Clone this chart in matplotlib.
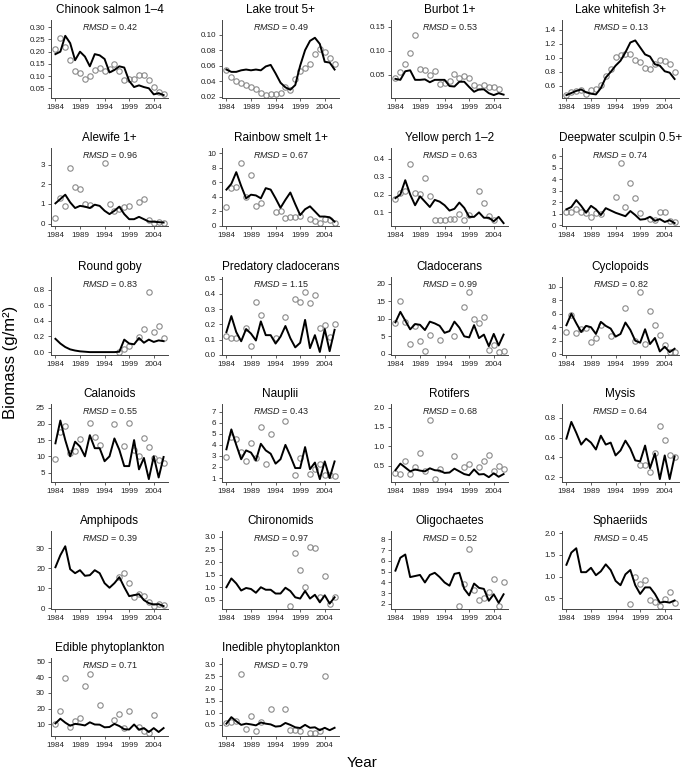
import numpy as np
import matplotlib.pyplot as plt

plt.rcParams['font.family'] = ['Liberation Sans', 'DejaVu Sans']
plt.rcParams['mathtext.fontset'] = 'custom'
plt.rcParams['mathtext.it'] = 'Liberation Sans:italic'
plt.rcParams['mathtext.rm'] = 'Liberation Sans'

years = np.arange(1984, 2007)
xticks = [1984, 1989, 1994, 1999, 2004]

# model (line) and observed (circles) biomass, 1984-2006; None = no survey
chinook_model = [0.19, 0.20, 0.265, 0.235, 0.165, 0.20, 0.18, 0.14, 0.19, 0.185, 0.17, 0.115,
                 0.125, 0.14, 0.135, 0.08, 0.055, 0.062, 0.055, 0.05, 0.025, 0.03, 0.022]
chinook_obs = [0.21, 0.255, 0.22, 0.164, 0.122, 0.112, 0.09, 0.10, 0.123, 0.133, 0.122, 0.127,
               0.15, 0.12, 0.085, 0.09, 0.088, 0.105, 0.105, 0.085, 0.055, 0.035, 0.025]

trout_model = [0.055, 0.052, 0.052, 0.054, 0.055, 0.054, 0.055, 0.054, 0.059, 0.061, 0.050, 0.038,
               0.032, 0.029, 0.035, 0.060, 0.080, 0.092, 0.096, 0.088, 0.065, 0.064, 0.055]
trout_obs = [0.055, 0.046, 0.040, 0.038, 0.035, 0.033, 0.030, 0.025, 0.022, 0.024, 0.023, 0.025,
             0.033, 0.028, 0.043, 0.053, 0.057, 0.062, 0.075, 0.081, 0.078, 0.070, 0.062]

burbot_model = [0.041, 0.039, 0.057, 0.059, 0.039, 0.039, 0.040, 0.034, 0.039, 0.039, 0.039, 0.026,
                0.025, 0.035, 0.035, 0.024, 0.014, 0.019, 0.019, 0.011, 0.007, 0.011, 0.008]
burbot_obs = [0.042, 0.056, 0.073, 0.095, 0.132, 0.062, 0.060, 0.050, 0.057, 0.031, 0.032, 0.036,
              0.052, 0.043, 0.047, 0.043, 0.028, 0.023, 0.029, 0.024, 0.023, 0.019, None]

whitefish_model = [0.47, 0.50, 0.53, 0.55, 0.51, 0.49, 0.48, 0.57, 0.72, 0.80, 0.89, 0.96,
                   1.08, 1.22, 1.25, 1.15, 1.05, 1.02, 0.91, 0.89, 0.81, 0.79, 0.70]
whitefish_obs = [0.47, 0.51, 0.53, 0.54, 0.49, 0.55, 0.56, 0.62, 0.74, 0.84, 1.01, 1.04,
                 1.05, 1.06, 0.97, 0.94, 0.86, 0.84, 0.91, 0.97, 0.95, 0.91, 0.80]

alewife_model = [1.03, 1.25, 1.47, 1.08, 0.79, 0.90, 0.86, 0.79, 0.96, 0.90, 0.65, 0.48,
                 0.65, 0.86, 0.48, 0.22, 0.22, 0.34, 0.22, 0.10, 0.09, 0.07, 0.05]
alewife_obs = [0.26, 1.3, 0.87, 2.85, 1.86, 1.74, 1.0, 0.96, None, None, 3.09, 1.0,
               0.65, 0.74, 0.86, 0.89, None, 1.09, 1.26, 0.17, 0.02, 0.1, 0.02]

smelt_model = [5.0, 5.8, 7.4, 5.5, 3.8, 4.3, 4.2, 3.8, 5.2, 5.0, 3.8, 2.5,
               3.6, 4.6, 3.0, 1.5, 2.3, 2.7, 2.0, 1.3, 1.3, 1.2, 0.6]
smelt_obs = [2.6, 5.2, 5.3, 8.6, 4.0, 7.0, 2.7, 3.2, None, None, 1.9, 2.1,
             1.1, 1.3, 1.3, 1.4, None, 0.9, 0.7, 0.4, 1.0, 0.8, 0.4]

perch_model = [0.18, 0.20, 0.28, 0.20, 0.14, 0.19, 0.16, 0.13, 0.17, 0.16, 0.14, 0.11,
               0.12, 0.155, 0.125, 0.075, 0.075, 0.10, 0.07, 0.07, 0.05, 0.075, 0.04]
perch_obs = [0.175, 0.21, 0.22, 0.37, 0.21, 0.205, 0.29, 0.19, 0.055, 0.055, 0.055, 0.065,
             0.065, 0.09, 0.06, 0.085, None, 0.22, 0.15, 0.08, 0.06, None, None]

sculpin_model = [1.4, 1.6, 2.2, 1.7, 1.1, 1.7, 1.4, 0.9, 1.5, 1.3, 1.1, 0.95,
                 0.8, 1.25, 0.9, 0.5, 0.55, 0.75, 0.4, 0.55, 0.3, 0.45, 0.2]
sculpin_obs = [1.2, 1.2, 1.4, 1.2, 1.05, 0.75, 1.1, 0.95, None, None, 2.5, 5.4,
               1.6, 3.7, 2.4, 1.05, None, 0.55, 0.45, 1.2, 1.15, 0.35, 0.3]

goby_model = [0.17, 0.11, 0.065, 0.035, 0.02, 0.01, 0.005, 0.0, 0.0, 0.0, 0.0, 0.0,
              0.0, 0.005, 0.16, 0.11, 0.10, 0.18, 0.12, 0.16, 0.13, 0.15, 0.14]
goby_obs = [None, None, None, None, None, None, None, None, None, None, None, None,
            None, 0.0, 0.04, 0.08, None, 0.19, 0.29, 0.77, 0.26, 0.34, 0.18]

predclad_model = [0.15, 0.255, 0.15, 0.09, 0.17, 0.14, 0.095, 0.22, 0.13, 0.13, 0.075, 0.12,
                  0.19, 0.11, 0.05, 0.08, 0.23, 0.045, 0.13, 0.02, 0.17, 0.025, 0.165]
predclad_obs = [0.125, 0.11, 0.11, None, 0.175, 0.06, 0.345, 0.26, None, None, 0.11, None,
                0.25, None, 0.365, 0.345, 0.41, 0.34, 0.39, 0.18, 0.195, 0.115, 0.2]

clado_model = [9.0, 12.0, 9.5, 7.0, 8.5, 8.3, 6.8, 9.2, 8.7, 8.0, 6.0, 6.5,
               9.2, 7.5, 5.0, 4.7, 8.2, 4.5, 5.5, 2.2, 5.7, 2.4, 5.5]
clado_obs = [8.7, 15.0, 9.2, 2.7, 8.0, 3.7, 0.8, 5.4, None, 3.9, None, None,
             5.0, None, 13.3, 17.6, 9.9, 8.7, 10.4, 1.1, 2.4, 0.5, 0.9]

cyclo_model = [4.3, 6.0, 4.6, 3.3, 4.2, 4.0, 3.0, 4.8, 4.2, 3.8, 2.6, 3.0,
               4.7, 3.6, 2.0, 1.7, 3.7, 1.5, 2.4, 0.4, 1.1, 0.3, 0.8]
cyclo_obs = [3.3, 5.8, 3.2, 3.7, 3.9, 1.8, 2.4, 4.4, None, 2.7, None, None,
             6.9, None, 1.9, 9.2, 1.5, 6.4, 4.4, 2.9, 1.3, 0.3, 0.3]

calan_model = [14, 21, 15, 10, 14.5, 13, 10, 16.5, 12.5, 12.5, 8.5, 10,
               15.5, 12, 7, 7, 15, 6, 9.5, 3, 10, 3.5, 9.8]
calan_obs = [9.3, 17.5, 19.3, 11, 11.7, 15.2, None, 20.2, 16, 13.6, None, None,
             20, None, 13.3, 20.4, 12, 10, 15.5, 13, 9.5, 9, 8]

naup_model = [3.6, 5.4, 4.0, 2.7, 3.5, 3.3, 2.6, 4.1, 3.5, 3.2, 2.3, 2.7,
              4.0, 3.0, 1.9, 1.9, 3.8, 1.8, 2.4, 0.9, 2.5, 1.0, 2.5]
naup_obs = [2.9, 4.7, 4.5, 3.4, 2.5, 4.2, 2.8, 5.6, 2.3, 5.0, None, None,
            6.2, None, 1.3, 2.8, None, 1.4, 1.8, 2.3, 1.3, 1.3, 1.2]

rotif_model = [0.38, 0.55, 0.45, 0.35, 0.40, 0.37, 0.35, 0.43, 0.38, 0.37, 0.31, 0.32,
               0.42, 0.35, 0.28, 0.25, 0.40, 0.27, 0.28, 0.20, 0.30, 0.21, 0.28]
rotif_obs = [0.30, 0.29, 0.62, 0.29, 0.45, 0.83, 0.35, 1.68, 0.15, 0.42, None, None,
             0.75, None, 0.46, 0.54, None, 0.46, 0.63, 0.78, 0.36, 0.48, 0.40]

mysis_model = [0.59, 0.76, 0.65, 0.53, 0.59, 0.55, 0.48, 0.62, 0.53, 0.55, 0.42, 0.47,
               0.57, 0.49, 0.37, 0.36, 0.52, 0.29, 0.44, 0.18, 0.42, 0.18, 0.41]
mysis_obs = [None, None, None, None, None, None, None, None, None, None, None, None,
             None, None, None, 0.32, 0.32, 0.25, 0.44, 0.72, 0.58, 0.42, 0.40]

amphi_model = [20.5, 26.5, 31, 19.5, 17.5, 19, 16.2, 16.5, 19, 17.5, 12.5, 10.2,
               12.5, 15.5, 10.5, 6, 6.5, 7, 4, 2.5, 1.8, 2.0, 1.0]
amphi_obs = [None, None, None, None, None, None, None, None, None, None, None, None,
             None, 15.8, 17.8, 12.7, 5.5, 7.0, 6.2, 3.2, 1.0, 2.0, 1.5]

chiro_model = [1.0, 1.35, 1.15, 0.87, 0.97, 0.93, 0.78, 1.0, 0.9, 0.9, 0.75, 0.75,
               0.98, 0.85, 0.6, 0.55, 0.85, 0.55, 0.7, 0.4, 0.68, 0.35, 0.6]
chiro_obs = [None, None, None, None, None, None, None, None, None, None, None, None,
             None, 0.25, 2.35, 1.68, 1.02, 2.6, 2.57, 0.6, 1.45, 0.35, 0.62]

oligo_model = [5.1, 6.3, 6.6, 4.5, 4.6, 4.7, 4.0, 4.7, 4.9, 4.5, 4.0, 3.7,
               4.8, 4.9, 3.4, 2.8, 3.9, 3.5, 3.4, 2.3, 2.9, 2.1, 2.9]
oligo_obs = [None, None, None, None, None, None, None, None, None, None, None, None,
             None, 1.85, 3.9, 7.1, 3.3, 2.4, 2.6, 3.1, 4.3, 1.8, 4.0]

sphaer_model = [1.27, 1.55, 1.65, 1.1, 1.1, 1.2, 1.03, 1.12, 1.28, 1.15, 0.9, 0.8,
                1.05, 1.15, 0.8, 0.6, 0.75, 0.75, 0.6, 0.4, 0.42, 0.4, 0.45]
sphaer_obs = [None, None, None, None, None, None, None, None, None, None, None, None,
              None, 0.38, 0.98, 0.83, 0.93, 0.47, 0.42, 0.32, 0.48, 0.64, 0.4]

edible_model = [10.5, 13.5, 11, 9, 10.2, 9.8, 9.2, 11.2, 9.8, 9.7, 8.0, 8.2,
                10.2, 8.8, 6.8, 6.6, 9.8, 6.5, 7.5, 5.0, 7.5, 5.0, 7.5]
edible_obs = [10.2, 18.5, 39.5, 8.2, 12, 14, 34.5, 42, None, 22, None, None,
              12.5, 16.3, 7.5, 18.2, None, 8, 5.5, 4.3, 16, None, None]

inedible_model = [0.55, 0.82, 0.65, 0.5, 0.55, 0.52, 0.48, 0.6, 0.55, 0.52, 0.43, 0.45,
                  0.58, 0.5, 0.4, 0.37, 0.5, 0.38, 0.4, 0.28, 0.38, 0.28, 0.38]
inedible_obs = [0.57, 0.62, 0.65, 2.62, 0.33, 0.88, 0.23, 0.6, None, 1.15, None, None,
                1.17, 0.3, 0.3, 0.25, None, 0.16, 0.17, 0.25, 2.53, None, None]

titles = ["Chinook salmon 1\u20134", "Lake trout 5+", "Burbot 1+", "Lake whitefish 3+",
          "Alewife 1+", "Rainbow smelt 1+", "Yellow perch 1\u20132", "Deepwater sculpin 0.5+",
          "Round goby", "Predatory cladocerans", "Cladocerans", "Cyclopoids",
          "Calanoids", "Nauplii", "Rotifers", "Mysis",
          "Amphipods", "Chironomids", "Oligochaetes", "Sphaeriids",
          "Edible phytoplankton", "Inedible phytoplankton"]
rmsd = [0.42, 0.49, 0.53, 0.13, 0.96, 0.67, 0.63, 0.74, 0.83, 1.15, 0.99, 0.82,
        0.55, 0.43, 0.68, 0.64, 0.39, 0.97, 0.52, 0.45, 0.71, 0.79]
yticks = [[0.05, 0.10, 0.15, 0.20, 0.25, 0.30], [0.02, 0.04, 0.06, 0.08, 0.10],
          [0.05, 0.10, 0.15], [0.6, 0.8, 1.0, 1.2, 1.4],
          [0, 1, 2, 3], [0, 2, 4, 6, 8, 10], [0.1, 0.2, 0.3, 0.4], [0, 1, 2, 3, 4, 5, 6],
          [0.0, 0.2, 0.4, 0.6, 0.8], [0.0, 0.1, 0.2, 0.3, 0.4, 0.5], [0, 5, 10, 15, 20],
          [0, 2, 4, 6, 8, 10],
          [5, 10, 15, 20, 25], [1, 2, 3, 4, 5, 6, 7], [0.5, 1.0, 1.5, 2.0], [0.2, 0.4, 0.6, 0.8],
          [0, 10, 20, 30], [0.5, 1.0, 1.5, 2.0, 2.5, 3.0], [2, 3, 4, 5, 6, 7, 8],
          [0.5, 1.0, 1.5, 2.0],
          [10, 20, 30, 40, 50], [0.5, 1.0, 1.5, 2.0, 2.5, 3.0]]
models = [chinook_model, trout_model, burbot_model, whitefish_model,
          alewife_model, smelt_model, perch_model, sculpin_model,
          goby_model, predclad_model, clado_model, cyclo_model,
          calan_model, naup_model, rotif_model, mysis_model,
          amphi_model, chiro_model, oligo_model, sphaer_model,
          edible_model, inedible_model]
observed = [chinook_obs, trout_obs, burbot_obs, whitefish_obs,
            alewife_obs, smelt_obs, perch_obs, sculpin_obs,
            goby_obs, predclad_obs, clado_obs, cyclo_obs,
            calan_obs, naup_obs, rotif_obs, mysis_obs,
            amphi_obs, chiro_obs, oligo_obs, sphaer_obs,
            edible_obs, inedible_obs]

W, H = 685, 771
fig = plt.figure(figsize=(W / 100, H / 100), dpi=100)
col_left = [51, 222, 391, 562]
row_bottom = [98, 226, 355, 482, 609, 736]
aw, ah = 117, 78

for i in range(len(titles)):
    r, c = divmod(i, 4)
    ax = fig.add_axes([col_left[c] / W, 1 - row_bottom[r] / H, aw / W, ah / H])
    mod = np.array(models[i], dtype=float)
    obs = np.array(observed[i], dtype=float)
    ax.plot(years, obs, 'o', mfc='none', mec='#8a8a8a', ms=3.9, mew=0.8)
    ax.plot(years, mod, color='black', lw=1.4)

    # R-like limits: range(min, 1.2*max) padded 4%
    lo = np.nanmin([np.nanmin(mod), np.nanmin(obs)])
    hi = 1.2 * np.nanmax([np.nanmax(mod), np.nanmax(obs)])
    pad = 0.04 * (hi - lo)
    ticks = yticks[i]
    ax.set_ylim(min(lo - pad, ticks[0]), max(hi + pad, ticks[-1]))
    ax.set_xlim(1983.1, 2006.9)

    step = ticks[1] - ticks[0]
    dec = 0 if step >= 1 else (1 if round(step * 10, 6) == int(round(step * 10)) else 2)
    ax.set_yticks(ticks)
    ax.set_yticklabels([f"{t:.{dec}f}" for t in ticks])
    ax.set_xticks(xticks)

    for s in ['top', 'right']:
        ax.spines[s].set_visible(False)
    for s in ['left', 'bottom']:
        ax.spines[s].set_linewidth(0.7)
        ax.spines[s].set_color('#444444')
    ax.tick_params(direction='out', length=2.5, width=0.6, color='#444444',
                   labelsize=5.8, labelcolor='#222222', pad=1.8)

    ax.set_title(titles[i], fontsize=8.5, pad=5)
    ax.text(0.5, 0.91, r'$\mathit{RMSD}$' + f' = {rmsd[i]:.2f}', transform=ax.transAxes,
            ha='center', va='center', fontsize=6.5, color='#222222')

fig.text(0.015, 0.53, 'Biomass (g/m\u00b2)', rotation=90, fontsize=12,
         ha='center', va='center')
fig.text(0.528, 0.011, 'Year', fontsize=11, ha='center', va='center')

fig.savefig('out.png', dpi=100)
